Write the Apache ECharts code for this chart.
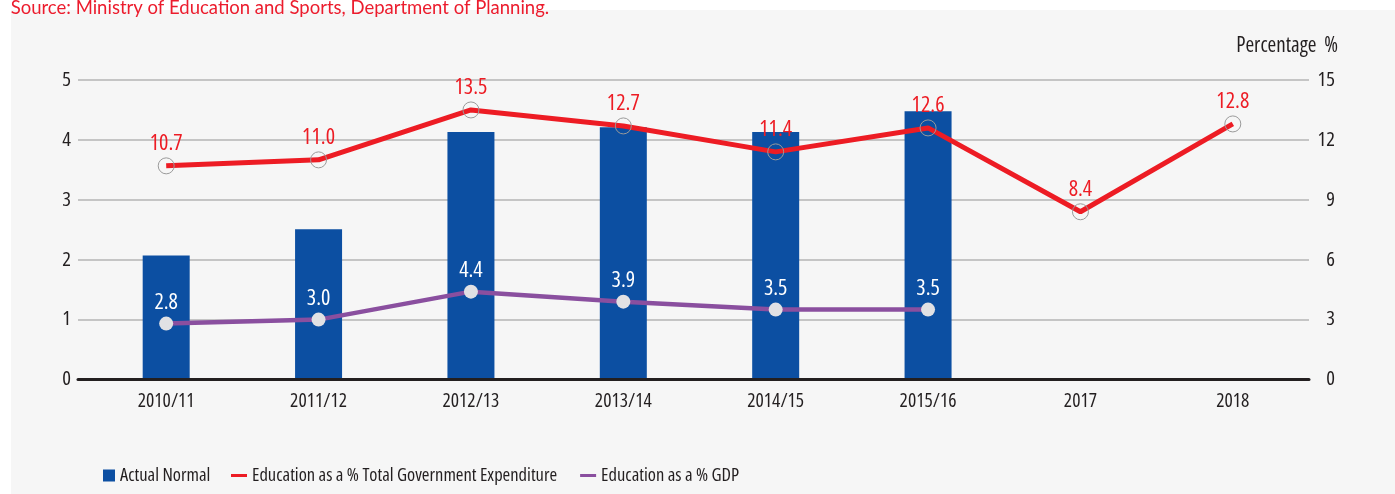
<!DOCTYPE html>
<html>
<head>
<meta charset="utf-8">
<script src="https://cdn.jsdelivr.net/npm/echarts@6/dist/echarts.min.js"></script>
<style>
  html, body { margin: 0; padding: 0; background: #ffffff; }
  #panel { position: absolute; left: 11px; top: 10px; right: 0; bottom: 0; background: #f6f6f6; }
  #chart { position: absolute; left: 0; top: 0; width: 1395px; height: 494px; }
</style>
</head>
<body>
<div id="panel"></div>
<div id="chart"></div>
<script>
// Education spending, fiscal years 2010/11 - 2018
const categories = ['2010/11', '2011/12', '2012/13', '2013/14', '2014/15', '2015/16', '2017', '2018'];
const actualNormal = [2.07, 2.51, 4.13, 4.21, 4.13, 4.48, null, null];           // left axis
const shareOfGovExpenditure = [10.7, 11.0, 13.5, 12.7, 11.4, 12.6, 8.4, 12.8];   // right axis, %
const shareOfGdp = [2.8, 3.0, 4.4, 3.9, 3.5, 3.5, null, null];                    // right axis, %
const leftTicks = { min: 0, max: 5, interval: 1 };
const rightTicks = { min: 0, max: 15, interval: 3 };

// condensed face of Open Sans via font-stretch
const FAMILY = "'Open Sans'";
const STRETCH = 'condensed';
const cond = (size, color) => ({ fontSize: size, color: color, fontFamily: FAMILY, fontWeight: STRETCH, fontStyle: 'normal' });

const INK = '#231f20';
const BLUE = '#0c4fa2';
const RED = '#ed1c24';
const PURPLE = '#8a4f9f';

const chart = echarts.init(document.getElementById('chart'));

const gridTop = 80, gridBottom = 114.5, gridRight = 86;

chart.setOption({
  animation: false,
  graphic: [
    {
      type: 'text', left: 10.7, top: -1,
      style: {
        text: 'Source: Ministry of Education and Sports, Department of Planning.',
        font: "18.5px Lato, 'Open Sans', sans-serif", fill: '#ec1c2d'
      }
    },
    {
      type: 'text', right: 57, top: 36,
      style: { text: 'Percentage  %', font: "normal " + STRETCH + " 21px " + FAMILY, fill: INK }
    }
  ],
  legend: [
    {
      data: [{ name: 'Actual Normal', icon: 'rect' }],
      left: 103, top: 466, padding: 0, itemWidth: 12, itemHeight: 12,
      textStyle: cond(18.5, INK),
      selectedMode: false
    },
    {
      data: [
        { name: 'Education as a % Total Government Expenditure', icon: 'rect', itemStyle: { color: RED, borderWidth: 0 } },
        { name: 'Education as a % GDP', icon: 'rect', itemStyle: { color: PURPLE, borderWidth: 0 } }
      ],
      left: 231, top: 466, padding: 0, itemWidth: 16, itemHeight: 3, itemGap: 23,
      textStyle: cond(18.5, INK),
      selectedMode: false
    }
  ],
  grid: [
    // frame: gridlines, tick labels and baseline
    { left: 78, right: gridRight, top: gridTop, bottom: gridBottom },
    // plotting area for the categories
    { left: 90, right: gridRight, top: gridTop, bottom: gridBottom }
  ],
  xAxis: [
    {
      gridIndex: 0, type: 'value', min: 0, max: 1, z: 10,
      axisLine: { show: true, lineStyle: { color: INK, width: 3 } },
      axisTick: { show: false }, axisLabel: { show: false }, splitLine: { show: false }
    },
    {
      gridIndex: 1, type: 'category', data: categories,
      axisLine: { show: false }, axisTick: { show: false }, splitLine: { show: false },
      axisLabel: Object.assign(cond(19.5, INK), { margin: 12 })
    }
  ],
  yAxis: [
    {
      gridIndex: 0, type: 'value', position: 'left', ...leftTicks,
      axisLine: { show: false }, axisTick: { show: false },
      axisLabel: Object.assign(cond(20.5, INK), { margin: 7, padding: [6, 0, 0, 0] }),
      splitLine: { show: true, lineStyle: { color: '#b4b4b4', width: 1.5 } }
    },
    {
      gridIndex: 0, type: 'value', position: 'right', ...rightTicks,
      axisLine: { show: false }, axisTick: { show: false },
      axisLabel: Object.assign(cond(20.5, INK), { margin: 26, align: 'right' }),
      splitLine: { show: false }
    },
    { gridIndex: 1, type: 'value', position: 'left', ...leftTicks, show: false },
    { gridIndex: 1, type: 'value', position: 'right', ...rightTicks, show: false }
  ],
  series: [
    {
      name: 'Actual Normal', type: 'bar', xAxisIndex: 1, yAxisIndex: 2,
      data: actualNormal, barWidth: 47,
      itemStyle: { color: BLUE }
    },
    {
      name: 'Education as a % Total Government Expenditure', type: 'line', xAxisIndex: 1, yAxisIndex: 3,
      data: shareOfGovExpenditure,
      symbol: 'circle', symbolSize: 16,
      lineStyle: { color: RED, width: 5 },
      itemStyle: { color: 'rgba(0,0,0,0)', borderColor: '#9a9a9a', borderWidth: 1 },
      label: Object.assign(cond(22, RED), {
        show: true, position: 'top', distance: 3,
        formatter: p => p.value.toFixed(1)
      })
    },
    {
      name: 'Education as a % GDP', type: 'line', xAxisIndex: 1, yAxisIndex: 3,
      data: shareOfGdp,
      symbol: 'circle', symbolSize: 14,
      lineStyle: { color: PURPLE, width: 4.5 },
      itemStyle: { color: '#e1e1e4', borderWidth: 0 },
      label: Object.assign(cond(22, '#ffffff'), {
        show: true, position: 'top', distance: 3,
        formatter: p => p.value.toFixed(1)
      })
    }
  ]
});
</script>
</body>
</html>
